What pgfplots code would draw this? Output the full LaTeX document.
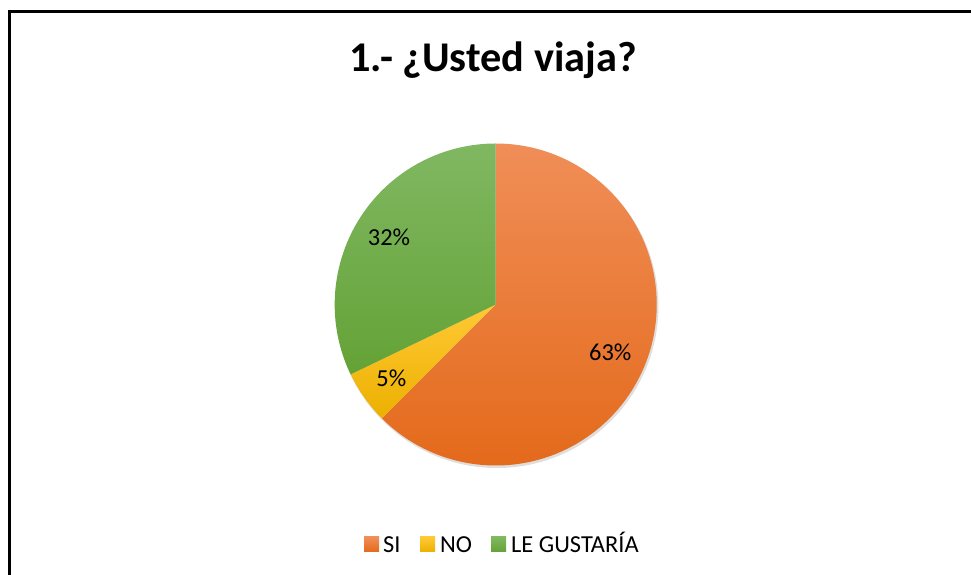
\documentclass[border=0pt]{standalone}
\usepackage{fontspec}
\setmainfont{Carlito}
\usepackage{pgfplots}
\usepackage{pgfplotstable}
\pgfplotsset{compat=1.18}

\definecolor{siTop}{HTML}{F08E58}
\definecolor{siBot}{HTML}{E46A1B}
\definecolor{noTop}{HTML}{FFC935}
\definecolor{noBot}{HTML}{ECB000}
\definecolor{leTop}{HTML}{80B862}
\definecolor{leBot}{HTML}{64A236}

% respuestas (conteos)
\pgfplotstableread{
label count
SI 35
NO 3
LE 18
}\viaja

\begin{document}
\begin{tikzpicture}
\pgfplotstablegetelem{0}{count}\of\viaja \let\cSI\pgfplotsretval
\pgfplotstablegetelem{1}{count}\of\viaja \let\cNO\pgfplotsretval
\pgfplotstablegetelem{2}{count}\of\viaja \let\cLE\pgfplotsretval
\pgfmathsetmacro\tot{\cSI+\cNO+\cLE}
\pgfmathsetmacro\aSI{90-360*\cSI/\tot}
\pgfmathsetmacro\aNO{\aSI-360*\cNO/\tot}
\pgfmathsetmacro\mSI{(90+\aSI)/2}
\pgfmathsetmacro\mNO{(\aSI+\aNO)/2}
\pgfmathsetmacro\mLE{(\aNO-270)/2}
\pgfmathtruncatemacro\pSI{round(100*\cSI/\tot+0.001)}
\pgfmathtruncatemacro\pNO{round(100*\cNO/\tot+0.001)}
\pgfmathtruncatemacro\pLE{round(100*\cLE/\tot+0.001)}
\def\cx{495.7}\def\cy{270.5}
\begin{axis}[
  width=971bp, height=575bp, scale only axis,
  xmin=0, xmax=971, ymin=0, ymax=575,
  enlargelimits=false, hide axis, clip=false,
]
\addplot[draw=none] coordinates {(0,0)};
% sombra
\fill[black, opacity=0.13] (axis cs:\cx+1.2,\cy-2) circle[radius=161.5bp];
% sectores
\shade[top color=siTop, bottom color=siBot] (axis cs:\cx,\cy) -- ++(90:161bp)
  arc[start angle=90, end angle=\aSI, radius=161bp] -- cycle;
\shade[top color=noTop, bottom color=noBot] (axis cs:\cx,\cy) -- ++(\aSI:161bp)
  arc[start angle=\aSI, end angle=\aNO, radius=161bp] -- cycle;
\shade[top color=leTop, bottom color=leBot] (axis cs:\cx,\cy) -- ++(\aNO:161bp)
  arc[start angle=\aNO, end angle=-270, radius=161bp] -- cycle;
% etiquetas
\node[font=\fontsize{24.5}{28}\selectfont, shift={(\mSI:124bp)}] at (axis cs:\cx,\cy) {\pSI\%};
\node[font=\fontsize{24.5}{28}\selectfont, shift={(\mNO:128bp)}] at (axis cs:\cx,\cy) {\pNO\%};
\node[font=\fontsize{24.5}{28}\selectfont, shift={(\mLE:126bp)}] at (axis cs:\cx,\cy) {\pLE\%};
% titulo
\node[anchor=base, font=\bfseries\fontsize{42.5}{46}\selectfont] at (axis cs:493,503.3) {1.- ¿Usted viaja?};
% leyenda
\shade[top color=siTop, bottom color=siBot] (axis cs:364,23) rectangle (axis cs:379,38);
\node[anchor=base west, inner sep=0pt, font=\fontsize{24.5}{28}\selectfont] at (axis cs:383,23) {SI};
\shade[top color=noTop, bottom color=noBot] (axis cs:420,23) rectangle (axis cs:435,38);
\node[anchor=base west, inner sep=0pt, font=\fontsize{24.5}{28}\selectfont] at (axis cs:440,23) {NO};
\shade[top color=leTop, bottom color=leBot] (axis cs:491,23) rectangle (axis cs:506,38);
\node[anchor=base west, inner sep=0pt, font=\fontsize{24.5}{28}\selectfont] at (axis cs:511,23) {LE GUSTARÍA};
% marco
\draw[line width=3bp] (axis cs:9.8,-10) |- (axis cs:990,563.5);
\end{axis}
\pgfresetboundingbox
\path (0,0) rectangle (971bp,575bp);
\end{tikzpicture}
\end{document}
